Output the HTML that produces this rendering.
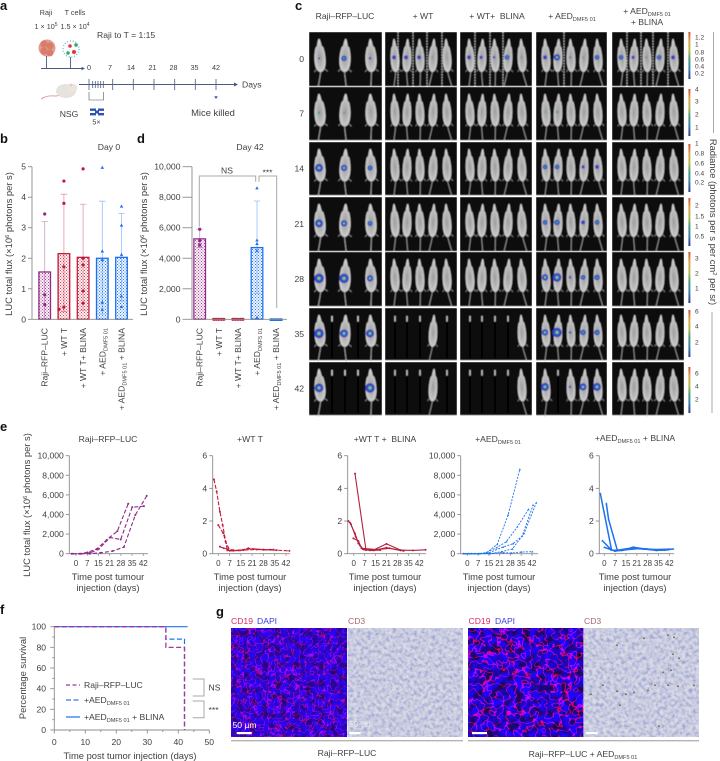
<!DOCTYPE html>
<html lang="en">
<head>
<meta charset="utf-8">
<title>Raji-RFP-LUC tumour model figure</title>
<style>
html,body{margin:0;padding:0;background:#fff}
svg{display:block}
text{font-family:"Liberation Sans",sans-serif;fill:#3f3f3f;font-size:8.6px}
.pl{font-size:13px;font-weight:700;fill:#111}
.ax{stroke:#8c8c8c;stroke-width:.9;fill:none}
.g{stroke:#a8a8a8;stroke-width:1;fill:none}
.sm{font-size:7.2px}
text.wide{font-size:9.4px}
</style>
</head>
<body>
<svg id="fig" xmlns="http://www.w3.org/2000/svg" width="720" height="761" viewBox="0 0 720 761">
<defs>
<pattern id="hPurple" width="3" height="3" patternUnits="userSpaceOnUse"><rect width="3" height="3" fill="#fbf1f8"/><rect width="1" height="1" fill="#a2468f"/><rect x="1.5" y="1.5" width="1" height="1" fill="#a2468f"/></pattern>
<pattern id="hRed" width="3" height="3" patternUnits="userSpaceOnUse"><rect width="3" height="3" fill="#fdf1f2"/><rect width="1" height="1" fill="#d2455f"/><rect x="1.5" y="1.5" width="1" height="1" fill="#d2455f"/></pattern>
<pattern id="hBlue" width="3" height="3" patternUnits="userSpaceOnUse"><rect width="3" height="3" fill="#f0f6ff"/><rect width="1" height="1" fill="#2a7bee"/><rect x="1.5" y="1.5" width="1" height="1" fill="#2a7bee"/></pattern>
<radialGradient id="mouseFill" cx=".5" cy=".55" r=".6"><stop offset="0" stop-color="#9c9c9c"/><stop offset=".55" stop-color="#bcbcbc"/><stop offset="1" stop-color="#e8e8e8"/></radialGradient>
<linearGradient id="cbar" x1="0" y1="0" x2="0" y2="1"><stop offset="0" stop-color="#c8543e"/><stop offset=".2" stop-color="#dca548"/><stop offset=".4" stop-color="#b4b850"/><stop offset=".58" stop-color="#4a9a78"/><stop offset=".78" stop-color="#3a82ac"/><stop offset="1" stop-color="#333a80"/></linearGradient>
<filter id="fBlur" x="0" y="0" width="1" height="1"><feGaussianBlur stdDeviation=".5"/></filter>
<filter id="fCd19" x="0" y="0" width="1" height="1" color-interpolation-filters="sRGB">
<feTurbulence type="fractalNoise" baseFrequency=".16" numOctaves="2" seed="4"/>
<feColorMatrix values="1 0 0 0 0 0 1 0 0 0 0 0 1 0 0 0 0 0 0 1"/>
<feComponentTransfer><feFuncR id="ridgeA" type="table" tableValues="0.1 0.1"/><feFuncG type="table" tableValues="0.02 0.02 0.05"/><feFuncB type="table" tableValues="0.3 0.4 0.58 0.82 0.95 1 1"/></feComponentTransfer>
</filter>
<filter id="fCd19b" x="0" y="0" width="1" height="1" color-interpolation-filters="sRGB">
<feTurbulence type="fractalNoise" baseFrequency=".13" numOctaves="2" seed="11"/>
<feColorMatrix values="1 0 0 0 0 0 1 0 0 0 0 0 1 0 0 0 0 0 0 1"/>
<feComponentTransfer><feFuncR id="ridgeB" type="table" tableValues="0.1 0.1"/><feFuncG type="table" tableValues="0.02 0.02 0.05"/><feFuncB type="table" tableValues="0.12 0.22 0.42 0.78 1 1 1"/></feComponentTransfer>
</filter>
<filter id="fCd3" x="0" y="0" width="1" height="1" color-interpolation-filters="sRGB">
<feTurbulence type="fractalNoise" baseFrequency=".28" numOctaves="3" seed="7"/>
<feColorMatrix values="1 0 0 0 0 1 0 0 0 0 1 0 0 0 0 0 0 0 0 1"/>
<feComponentTransfer><feFuncR type="table" tableValues="0.54 0.66 0.79 0.86 0.9"/><feFuncG type="table" tableValues="0.56 0.68 0.8 0.87 0.9"/><feFuncB type="table" tableValues="0.8 0.84 0.88 0.9 0.92"/></feComponentTransfer>
</filter>
</defs>

<text class="pl" x="0" y="10">a</text>
<text class="pl" x="0" y="143">b</text>
<text class="pl" x="137" y="143">d</text>
<text class="pl" x="295" y="10">c</text>
<text class="pl" x="0" y="431">e</text>
<text class="pl" x="0" y="614">f</text>
<text class="pl" x="216" y="616">g</text>

<!-- Panel a -->
<g>
<text x="46" y="15" text-anchor="middle" class="sm">Raji</text>
<text x="75" y="15" text-anchor="middle" class="sm">T cells</text>
<text x="46" y="29" text-anchor="middle" class="sm">1 × 10<tspan dy="-3" font-size="5">5</tspan></text>
<text x="75" y="29" text-anchor="middle" class="sm">1.5 × 10<tspan dy="-3" font-size="5">4</tspan></text>
<text x="97" y="38" style="font-size:8.6px">Raji to T = 1:15</text>
<g>
<circle cx="47" cy="48" r="8.5" fill="#e39c8e"/><circle cx="44" cy="44" r="3.6" fill="#d97c6c"/><circle cx="50" cy="46" r="3.6" fill="#d97c6c"/><circle cx="44" cy="51" r="3.6" fill="#d97c6c"/><circle cx="50" cy="53" r="3.4" fill="#d97c6c"/>
</g>
<g>
<circle cx="70" cy="46" r="1.8" fill="#e2353f"/><circle cx="76" cy="45" r="1.8" fill="#3aa86a"/><circle cx="74" cy="52" r="2" fill="#e2353f"/><circle cx="68" cy="53" r="1.8" fill="#3aa86a"/>
<circle cx="71" cy="49" r="8" fill="none" stroke="#4aa8c8" stroke-width="1.4" stroke-dasharray=".8 2"/>
</g>
<path d="M46.5 56V68.5M70.5 57V68.5M41 68.5H84" stroke="#4a5d80" stroke-width=".9" fill="none"/>
<path d="M85 68.5l-3.5-1.8v3.6z" fill="#3a5a90"/>
<path d="M79 84.5H235" stroke="#4a5d80" stroke-width=".9"/>
<path d="M89 79V90M112.7 79V90M133.3 79V90M154 79V90M174.7 79V90M195.3 79V90M216 79V90M92.7 81V88M95.3 81V88M98 81V88M100.7 81V88M103.3 81V88" stroke="#4a5d80" stroke-width=".8" fill="none"/>
<g>
<text x="89" y="70" text-anchor="middle" class="sm">0</text>
<text x="110" y="70" text-anchor="middle" class="sm">7</text>
<text x="131" y="70" text-anchor="middle" class="sm">14</text>
<text x="152.5" y="70" text-anchor="middle" class="sm">21</text>
<text x="173.5" y="70" text-anchor="middle" class="sm">28</text>
<text x="194.5" y="70" text-anchor="middle" class="sm">35</text>
<text x="216" y="70" text-anchor="middle" class="sm">42</text>
</g>
<path d="M238 84.5l-4-2v4z" fill="#3a5a90"/>
<text x="242" y="87.5" style="font-size:8.6px">Days</text>
<path d="M89 92V100H103.5V92" stroke="#555" stroke-width=".6" fill="none"/>
<g>
<path d="M41 99C50 93 55 98 60 95" stroke="#d98a8a" stroke-width=".8" fill="none"/>
<ellipse cx="66" cy="91" rx="10" ry="7" fill="#e6e2dc"/><ellipse cx="73" cy="88" rx="4.5" ry="4" fill="#e9e5e0"/><circle cx="71" cy="85" r="1.5" fill="#f0c8c0"/>
</g>
<text x="69" y="117" text-anchor="middle" style="font-size:8.6px">NSG</text>
<g fill="#2f52b8"><rect x="90" y="108.5" width="6" height="2.4"/><rect x="98" y="108.5" width="6" height="2.4"/><rect x="90" y="113" width="6" height="2.4"/><rect x="98" y="113" width="6" height="2.4"/><rect x="95" y="110.5" width="4" height="3"/></g>
<text x="96.5" y="124.5" text-anchor="middle" class="sm">5×</text>
<path d="M216 99l-1.8-2.8h3.6z" fill="#3a5a90"/>
<text x="213" y="116" text-anchor="middle" style="font-size:9.4px">Mice killed</text>
</g>

<!-- Panels b, d -->
<text x="109" y="150" text-anchor="middle">Day 0</text>
<text x="250" y="150" text-anchor="middle">Day 42</text>
<text class="wide" transform="translate(12,244) rotate(-90)" text-anchor="middle">LUC total flux (×10<tspan dy="-3" font-size="5.8">6</tspan><tspan dy="3"> photons per s)</tspan></text>
<text class="wide" transform="translate(147,244) rotate(-90)" text-anchor="middle">LUC total flux (×10<tspan dy="-3" font-size="5.8">6</tspan><tspan dy="3"> photons per s)</tspan></text>
<g id="panelB"></g>
<g id="panelD"></g>
<path class="g" d="M199.3 226.7V176H255.7V181.7M259 181.7V176H276.7V308"/>
<text x="227" y="173.5" text-anchor="middle">NS</text>
<text x="267.5" y="175.5" text-anchor="middle">***</text>

<!-- Panel c -->
<g>
<text x="345" y="19" text-anchor="middle">Raji–RFP–LUC</text>
<text x="423" y="19" text-anchor="middle">+ WT</text>
<text x="497" y="19" text-anchor="middle" xml:space="preserve">+ WT+  BLINA</text>
<text x="572" y="19" text-anchor="middle">+ AED<tspan dy="2" font-size="5.6">DMF5 01</tspan></text>
<text x="647" y="14" text-anchor="middle">+ AED<tspan dy="2" font-size="5.6">DMF5 01</tspan></text>
<text x="647" y="25" text-anchor="middle">+ BLINA</text>
</g>
<g id="mouseGrid"></g>
<g id="colorBars"></g>
<text class="wide" transform="translate(710,222) rotate(90)" text-anchor="middle">Radiance (photons per s per cm<tspan dy="-3" font-size="5.8">2</tspan><tspan dy="3"> per sr)</tspan></text>
<path class="g" d="M713.5 32V133M712 312V413"/>

<!-- Panel e -->
<text class="wide" transform="translate(30,505) rotate(-90)" text-anchor="middle">LUC total flux (×10<tspan dy="-3" font-size="5.8">6</tspan><tspan dy="3"> photons per s)</tspan></text>
<text x="108" y="442" text-anchor="middle">Raji–RFP–LUC</text>
<text x="250" y="442" text-anchor="middle">+WT T</text>
<text x="385" y="442" text-anchor="middle" xml:space="preserve">+WT T +  BLINA</text>
<text x="498" y="442" text-anchor="middle">+AED<tspan dy="2" font-size="5.6">DMF5 01</tspan></text>
<text x="635" y="441" text-anchor="middle">+AED<tspan dy="2" font-size="5.6">DMF5 01</tspan><tspan dy="-2"> + BLINA</tspan></text>
<g id="panelE"></g>

<!-- Panel f -->
<g id="panelF"></g>
<text class="wide" transform="translate(26,678) rotate(-90)" text-anchor="middle">Percentage survival</text>
<text class="wide" x="130" y="759" text-anchor="middle">Time post tumor injection (days)</text>
<g>
<line x1="66" x2="80" y1="685" y2="685" stroke="#a3379a" stroke-width="1.3" stroke-dasharray="4 2.5"/>
<text x="84" y="688">Raji–RFP–LUC</text>
<line x1="66" x2="80" y1="700" y2="700" stroke="#2a7bee" stroke-width="1.3" stroke-dasharray="5 2.5"/>
<text x="84" y="703">+AED<tspan dy="2" font-size="5.6">DMF5 01</tspan></text>
<line x1="66" x2="80" y1="717" y2="717" stroke="#2a7bee" stroke-width="1.3"/>
<text x="84" y="720">+AED<tspan dy="2" font-size="5.6">DMF5 01</tspan><tspan dy="-2"> + BLINA</tspan></text>
</g>
<path class="g" d="M192.7 679H204V696H192.7M192.7 701H204V717.7H192.7"/>
<text x="208.5" y="690.5">NS</text>
<text x="208.5" y="713">***</text>

<!-- Panel g -->
<g>
<text x="231" y="624" style="fill:#e0246a">CD19</text>
<text x="257" y="624" style="fill:#3d3ee0">DAPI</text>
<text x="348" y="624" style="fill:#a86a70">CD3</text>
<text x="468.5" y="624" style="fill:#e0246a">CD19</text>
<text x="495" y="624" style="fill:#3d3ee0">DAPI</text>
<text x="584" y="624" style="fill:#a86a70">CD3</text>
<rect x="231" y="628.3" width="115.7" height="108.7" filter="url(#fCd19)"/>
<rect x="347.7" y="628.3" width="115.3" height="108.7" filter="url(#fCd3)"/>
<rect x="468" y="628.3" width="115.3" height="108.7" filter="url(#fCd19b)"/>
<rect x="584" y="628.3" width="115" height="108.7" filter="url(#fCd3)"/>
<g id="cd3Cells"></g>
<text x="232.5" y="728" style="fill:#fff">50 µm</text>
<text x="349" y="727" style="fill:#eee;opacity:.75">50 µm</text>
<g fill="#fff"><rect x="236.7" y="732" width="15" height="2.2"/><rect x="349" y="732" width="11.7" height="2.2"/><rect x="472" y="732" width="15" height="2.2"/><rect x="586" y="732" width="11.3" height="2.2"/></g>
<path d="M231 740.7H463M468 740.7H699" stroke="#b4b4b4" stroke-width="1.4"/>
<text x="347" y="756" text-anchor="middle">Raji–RFP–LUC</text>
<text x="583" y="757" text-anchor="middle">Raji–RFP–LUC + AED<tspan dy="2" font-size="5.6">DMF5 01</tspan></text>
</g>
</svg>
<script>
// ---- Panel b data (Day 0) ----
const barLabelParts=[['Raji–RFP–LUC'],['+ WT T'],['+ WT T+ BLINA'],['+ AED','DMF5 01'],['+ AED','DMF5 01',' + BLINA']];
const bTicks=[0,1,2,3,4,5];
const bMeans=[1.55,2.15,2.03,2.0,2.03];
const bErrHigh=[3.2,4.1,3.77,3.87,3.47];
const bErrLow=[0,0.25,0.3,0.17,0.6];
const bPoints=[[3.45,0.8,0.48],[4.53,3.8,1.72,0.33,0.4],[4.93,2.0,1.78,0.93,0.53],[4.97,2.23,1.95,0.55,0.32],[3.7,3.08,2.12,0.76,0.41]];
// ---- Panel d data (Day 42) ----
const dTicks=[0,2000,4000,6000,8000,10000];
const dMeans=[5270,20,20,4700,10];
const dErrHigh=[5900,30,30,7750,20];
const dErrLow=[4700,0,0,1700,0];
const dPoints=[[5900,5150,4870],[0,0,0,0,0],[0,0,0,0,0],[8600,5180,4950,4500,130],[-30,-30,-30,-30,-30]];
// ---- Panel e data ----
const eDayTicks=[0,7,15,21,28,35,42];
const fluxTicks=[0,2000,4000,6000,8000,10000];
const smallFluxTicks=[0,2,4,6];
const rajiDays=[[-2.7,2.1,7.1,12.9,19.1,25.8,32.6],[-1.9,3.1,8.7,14.1,21.2,27.9,35.1,42.4],[3.1,8.7,15.6,22.9,29.9,37,44.1]];
const rajiFlux=[[0,0,130,480,1400,2300,5100],[0,0,80,450,1650,1450,4750,4850],[0,0,100,270,680,3950,5900]];
const wtDays=[[-2.7,-1,1,2.7,4.6,5.6,9.3,15.5,23.8,32.1,44.1],[0,3.1,4.6,7.2,13.5,18.6,28,34.2],[1,3.5,6.2,12.4,18.6,28,36.2]];
const wtFlux=[[4.55,3.8,2.57,1.75,0.73,0.2,0.18,0.22,0.26,0.24,0.17],[1.75,1.25,0.73,0.18,0.2,0.33,0.25,0.25],[0.43,0.33,0.27,0.2,0.3,0.24,0.22]];
const wtBlinaDays=[[0.85,7.9,12.6,21,30,38,46],[-3.4,-1.7,1.3,4,6.6,12.6,21,30],[-0.2,3,5,14.7,23,32],[-2.4,0.85,3,5.8,10.5,17]];
const wtBlinaFlux=[[4.9,0.22,0.22,0.6,0.22,0.2,0.24],[2,1.8,1.04,0.5,0.25,0.2,0.37,0.2],[0.94,0.78,0.33,0.25,0.33,0.17],[1.9,1.24,0.63,0.29,0.2,0.22]];
const aedDays=[[-2.6,2.8,8.2,12.5,19.4,26.5,34.1],[-2.2,5,11.4,19,25.4,32.5,39.7],[-0.9,7.1,13.6,23.3,29.7,35.6,42.7],[0.6,14.7,22.2,29.3,36.9,44.8],[1.7,14.7,23.3,28.7,35.1,42.2]];
const aedFlux=[[0,0,0,100,950,3950,8600],[0,0,60,610,1220,2750,4520],[0,0,60,680,1020,1800,4960],[0,0,200,476,2070,5200],[0,0,100,70,170,200]];
const aedBlinaDays=[[-2.6,4.7,8,14.4,20.9,27.4,33.8,40.3,44.6],[1.3,2.8,8.4,12.3,18.8,25.2,32.8,39.2],[-1.3,4.7,11.2,18.3,26.3,33.8,41.4],[0,6.9,14.4,23,31.7,42.5]];
const aedBlinaFlux=[[3.69,0.22,0.2,0.3,0.32,0.28,0.22,0.25,0.29],[3.08,2.1,0.22,0.22,0.4,0.3,0.25,0.22],[0.8,0.22,0.2,0.33,0.28,0.2,0.24],[0.39,0.16,0.25,0.32,0.25,0.28]];
// ---- Panel f data: each value is the survival from that day onward ----
const survivalXTicks=[0,10,20,30,40,50];
const survivalYTicks=[0,20,40,60,80,100];
const survivalDaysRaji=[0,36,42];
const survivalPctRaji=[100,80,0];
const survivalDaysAed=[0,36,42];
const survivalPctAed=[100,88,0];
const survivalDaysBlina=[0,43];
const survivalPctBlina=[100,100];
// ---- Panel c labels ----
const dayLabels=['0','7','14','21','28','35','42'];
const radianceTicks=[['1.2','1','0.8','0.6','0.4','0.2'],['4','3','2','1'],['1','0.8','0.6','0.4','0.2'],['2','1.5','1','0.5'],['3','2','1'],['6','4','2'],['6','4','2']];
// Tumour signal per mouse: rows = days, columns = groups; null = no mouse
const signal=[
 [[1.2,3.5,1.5],[2.5,2.5,2.5,.7,0],[2.5,2,1.5,3,.7],[2.5,4,1,.7,3],[3,2,.8,3,2.5]],
 [[1.5,1.2,0],[0,0,0,0,0],[0,0,0,0,0],[.8,1.5,0,0,0],[0,0,0,0,0]],
 [[5,4,3.2],[0,0,0,0,0],[0,0,0,0,0],[3,3,0,2,2.5],[0,0,0,0,0]],
 [[5,4,3.2],[0,0,0,0,0],[0,0,0,0,0],[3,3.5,.5,2.5,3],[0,0,0,0,0]],
 [[6,6,4],[0,0,0,0,0],[0,0,0,0,0],[4,5.5,1.5,3,3.5],[0,0,0,0,0]],
 [[6,5,5],[null,null,null,0,null],[null,null,null,null,0],[4,6,1.5,3.5,3.5],[0,0,0,0,0]],
 [[5.5,null,6],[null,null,null,0,null],[null,null,null,null,0],[5,null,1.5,4.5,5],[0,0,0,0,0]]
];

const NS='http://www.w3.org/2000/svg';
function mk(tag,attrs,parent){
  const e=document.createElementNS(NS,tag);
  for(const k in attrs)e.setAttribute(k,attrs[k]);
  if(parent)parent.appendChild(e);
  return e;
}
function txt(parent,x,y,s,anchor,size){
  const t=mk('text',{x:x,y:y,'text-anchor':anchor||'middle'},parent);
  if(size)t.style.fontSize=size+'px';
  t.textContent=s;
  return t;
}
function fmt(v){return v.toLocaleString('en-US');}
function ridge(n,low,peak,side){
  const a=new Array(n).fill(low),m=(n-1)/2;
  a[m]=peak;a[m-1]=side;a[m+1]=side;
  return a.join(' ');
}
document.getElementById('ridgeA').setAttribute('tableValues',ridge(41,0.16,0.8,0.42));
document.getElementById('ridgeB').setAttribute('tableValues',ridge(37,0.12,0.95,0.5));

const PURPLE='#8e2a88',RED='#c3193c',BLUE='#1c72ee';
const barColors=[PURPLE,RED,RED,BLUE,BLUE];
const barFills=['url(#hPurple)','url(#hRed)','url(#hRed)','url(#hBlue)','url(#hBlue)'];

function marker(parent,cx,cy,kind,color,r){
  if(kind==='tri'){
    return mk('path',{d:`M${cx} ${cy-r*1.15}L${cx+r*1.1} ${cy+r*.8}H${cx-r*1.1}Z`,fill:color},parent);
  }
  return mk('circle',{cx:cx,cy:cy,r:r,fill:color},parent);
}
function swarm(ys){
  const order=ys.map((y,i)=>i).sort((a,b)=>ys[a]-ys[b]);
  const placed=[],dx=new Array(ys.length).fill(0);
  const steps=[0,-5,5,-2.6,2.6,-7,7];
  order.forEach(i=>{
    for(const s of steps){
      if(!placed.some(p=>Math.abs(p.y-ys[i])<3.2&&Math.abs(p.x-s)<2.4)){
        dx[i]=s;placed.push({x:s,y:ys[i]});break;
      }
    }
  });
  return dx;
}
function barPanel(g,opts){
  const y0=319.3,h=152.6,yS=v=>y0-v/opts.max*h;
  const xS=i=>opts.x0+i*opts.step;
  opts.ticks.forEach(t=>{
    const l=mk('line',{x1:opts.axisX-opts.tick,x2:opts.axisX,y1:yS(t),y2:yS(t),class:'ax'},g);
    
    
    const lab=txt(g,opts.axisX-opts.tick-2,yS(t)+3,fmt(t),'end');
    
    
  });
  barLabelParts.forEach((parts,i)=>{
    const x=xS(i);
    const c=barColors[i];
    const bw=mk('rect',{x:x-5.8,y:Math.min(yS(opts.means[i]),y0-.3),width:11.6,height:Math.max(y0-yS(opts.means[i]),.3),fill:barFills[i],stroke:c,'stroke-width':1.3},g);
    
    
    const err=mk('path',{d:`M${x} ${yS(opts.errLow[i])}V${yS(opts.errHigh[i])}M${x-3.2} ${yS(opts.errHigh[i])}h6.4M${x-3.2} ${yS(opts.errLow[i])}h6.4`,stroke:c,'stroke-width':.8,fill:'none',opacity:.45},g);
    
    
    const ys=opts.points[i].map(yS),dx=swarm(ys);
    ys.forEach((y,k)=>{
      const p=marker(g,x+dx[k],y,i>2?'tri':'dot',c,1.6);
      
      
    });
    const t=mk('text',{transform:`translate(${x+3},${328}) rotate(-90)`,'text-anchor':'end'},g);
    
    
    parts.forEach((s,k)=>{
      const sp=mk('tspan',{},t);
      if(k===1){sp.setAttribute('font-size','5.6');sp.setAttribute('dy','2');}
      if(k===2){sp.setAttribute('dy','-2');}
      sp.textContent=s;
    });
  });
  const ax=mk('path',{d:`M${opts.axisX} ${y0-h}V${y0}M${opts.axisX} ${y0}H${opts.axisEnd}`,class:'ax'},g);
  
  
}
barPanel(document.getElementById('panelB'),{max:5,ticks:bTicks,means:bMeans,errHigh:bErrHigh,errLow:bErrLow,points:bPoints,x0:44.7,step:19.2,axisX:32,axisEnd:133,tick:4});
barPanel(document.getElementById('panelD'),{max:10000,ticks:dTicks,means:dMeans,errHigh:dErrHigh,errLow:dErrLow,points:dPoints,x0:199.7,step:19.1,axisX:192,axisEnd:287,tick:9.5});

// Panel e
function lineChart(g,o){
  const y0=553.7,h=98,yS=v=>y0-v/o.max*h,xS=d=>o.xd0+(d/42)*(o.xd42-o.xd0);
  o.ticks.forEach(t=>{
    const l=mk('line',{x1:o.axisX-3.5,x2:o.axisX,y1:yS(t),y2:yS(t),class:'ax'},g);
    
    
    const lab=txt(g,o.axisX-5.5,yS(t)+3,o.max>100?fmt(t):String(t),'end');
    
    
  });
  eDayTicks.forEach((t,i)=>{
    const x=o.xd0+i/6*(o.xd42-o.xd0);
    const l=mk('line',{x1:x,x2:x,y1:y0,y2:y0+2,class:'ax'},g);
    
    
    const lab=txt(g,x,y0+12.5,String(t),'middle',8);
    
    
  });
  const ax=mk('path',{d:`M${o.axisX} ${y0-h}V${y0}H${o.axisEnd}`,class:'ax'},g);
  
  
  o.days.forEach((ds,si)=>{
    const vs=o.values[si];
    const d=ds.map((dd,k)=>(k?'L':'M')+xS(dd).toFixed(1)+' '+yS(vs[k]).toFixed(1)).join('');
    const line=mk('path',{d:d,fill:'none',stroke:o.color,'stroke-width':o.width,'stroke-dasharray':o.dash||'none'},g);
    
    
    ds.forEach((dd,k)=>{
      const p=marker(g,xS(dd),yS(vs[k]),o.kind,o.color,1);
      
      
    });
  });
  const a=txt(g,o.labelX,580,'Time post tumour');
  a.setAttribute('class','wide');
  
  
  const b=txt(g,o.labelX,591,'injection (days)');
  b.setAttribute('class','wide');
  
  
}
const gE=document.getElementById('panelE');
lineChart(gE,{max:10000,ticks:fluxTicks,days:rajiDays,values:rajiFlux,axisX:69.3,xd0:76,xd42:143.3,axisEnd:148,color:PURPLE,dash:'4 2',width:1.1,kind:'dot',labelX:108});
lineChart(gE,{max:6,ticks:smallFluxTicks,days:wtDays,values:wtFlux,axisX:212.7,xd0:218.3,xd42:286,axisEnd:290,color:RED,dash:'4 1.6',width:1.1,kind:'dot',labelX:250});
lineChart(gE,{max:6,ticks:smallFluxTicks,days:wtBlinaDays,values:wtBlinaFlux,axisX:347.7,xd0:353.7,xd42:419.3,axisEnd:426,color:'#b5203f',width:1.1,kind:'dot',labelX:385});
lineChart(gE,{max:10000,ticks:fluxTicks,days:aedDays,values:aedFlux,axisX:460.7,xd0:467.3,xd42:532,axisEnd:538,color:BLUE,dash:'2 1.3',width:.9,kind:'tri',labelX:499});
lineChart(gE,{max:6,ticks:smallFluxTicks,days:aedBlinaDays,values:aedBlinaFlux,axisX:599.3,xd0:604.3,xd42:669.3,axisEnd:674,color:BLUE,width:1.5,kind:'tri',labelX:635});

// Panel f
(function(){
  const g=document.getElementById('panelF');
  const xS=d=>54.3+d*3.1,yS=v=>730-v*1.033;
  const ax=mk('path',{d:`M${xS(0)} ${yS(100)}V${yS(0)}H${xS(50)}`,class:'ax'},g);
  
  
  survivalYTicks.forEach(t=>{
    const l=mk('line',{x1:xS(0)-4,x2:xS(0),y1:yS(t),y2:yS(t),class:'ax'},g);
    
    
    const m=mk('line',{x1:xS(0)-2,x2:xS(0),y1:yS(t+10),y2:yS(t+10),class:'ax'},g);
    if(t===100)m.setAttribute('display','none');
    
    
    const lab=txt(g,46,yS(t)+3,String(t),'end');
    
    
  });
  survivalXTicks.forEach(t=>{
    const l=mk('line',{x1:xS(t),x2:xS(t),y1:730,y2:733.5,class:'ax'},g);
    
    
    const m=mk('line',{x1:xS(t+5),x2:xS(t+5),y1:730,y2:732,class:'ax'},g);
    if(t===50)m.setAttribute('display','none');
    
    
    const lab=txt(g,xS(t),745,String(t));
    
    
  });
  function steps(ds,vs){
    let d='M'+xS(ds[0])+' '+yS(vs[0]);
    for(let i=1;i<ds.length;i++){d+='H'+xS(ds[i])+'V'+yS(vs[i]);}
    return d;
  }
  const s3=mk('path',{d:steps(survivalDaysBlina,survivalPctBlina),fill:'none',stroke:BLUE,'stroke-width':1.2},g);
  
  
  const s2=mk('path',{d:steps(survivalDaysAed,survivalPctAed),fill:'none',stroke:BLUE,'stroke-width':1.2,'stroke-dasharray':'5 2.5'},g);
  
  
  const s1=mk('path',{d:steps(survivalDaysRaji,survivalPctRaji),fill:'none',stroke:'#a3379a','stroke-width':1.3,'stroke-dasharray':'5 2.5'},g);
  
  
})();

// Panel c image grid
(function(){
  const grid=document.getElementById('mouseGrid');
  const colX=[[309,382],[385,457],[460,532],[536,607],[612,684]];
  const rowY=[[32,86],[87,140],[142,195],[197,251],[252,306],[308,360],[362,415]];
  const three=[11,36,62],five=[10,22,35,48,62];
  const tilt=[-3,2,-2,3,-3];
  const tailBend=[-3,2,-1,-3,4];
  rowY.forEach((ry,r)=>{
    colX.forEach((cx,c)=>{
      const cell=mk('g',{filter:'url(#fBlur)'},grid);
      
      
      const w=cx[1]-cx[0],h=ry[1]-ry[0];
      mk('rect',{x:cx[0],y:ry[0],width:w,height:h,fill:'#080808'},cell);
      const pos=c===0?three:five;
      const widthScale=c===0?.92:.72;
      const vals=signal[r][c];
      if(r>=5&&c===0){
        [23,36,49].forEach(tx=>{
          mk('rect',{x:cx[0]+tx-.7,y:ry[0]+8,width:1.4,height:5.5,fill:'#ddd'},cell);
          mk('rect',{x:cx[0]+tx-1,y:ry[0]+15,width:2,height:h-17,fill:'#000'},cell);
        });
      }else if(r>=5&&c>0){
        five.forEach((fx,i)=>{
          if(vals[i]===null){
            mk('rect',{x:cx[0]+fx-.7,y:ry[0]+8,width:1.4,height:5.5,fill:'#ccc'},cell);
            mk('rect',{x:cx[0]+fx-1,y:ry[0]+15,width:2,height:h-17,fill:'#000'},cell);
          }
        });
      }
      pos.forEach((mx,i)=>{
        const v=vals[i];
        if(v===null||v===undefined)return;
        const X=cx[0]+mx,top=ry[0]+7,sc=h/54*.86;
        const mouse=mk('g',{transform:`translate(${X},${top}) rotate(${tilt[i]} 0 20) scale(${sc*widthScale},${sc})`},cell);
        mk('path',{d:`M0 38C${tailBend[i]*.3} 44 ${tailBend[i]} 50 ${tailBend[i]*1.4} 56`,stroke:'#a8a8a8','stroke-width':1.2,fill:'none'},mouse);
        mk('path',{d:'M-.7 0H.7C2 3 2.6 6 3 8L5 10C6.4 15 7 19 7 24C7 31 5.5 36 2 38L0 38.5L-2 38C-5.5 36 -7 31 -7 24C-7 19 -6.4 15 -5 10L-3 8C-2.6 6 -2 3 -.7 0Z',fill:'url(#mouseFill)'},mouse);
        mk('path',{d:'M5 35L9 38M-5 35L-8 38',stroke:'#999','stroke-width':.9},mouse);
        if(v>0){
          const bx=X-1,by=ry[0]+h*.47+(c===0?1:0);
          const blob=mk('g',{},cell);
          
          
          mk('circle',{cx:bx,cy:by,r:v*.8,fill:r===1?'#3a9ab0':'#3b3fc4'},blob);
          if(v>=3)mk('circle',{cx:bx,cy:by,r:v*.38,fill:'#2b9cb4'},blob);
          if(v>=4)mk('circle',{cx:bx,cy:by,r:v*.18,fill:'#c6cc38'},blob);
        }
      });
      if(r===0&&c>0){
        const dashes=[[],[13,28,42,57],[15,30,43],[28],[15,29,41,56]][c];
        dashes.forEach(d=>{
          mk('line',{x1:cx[0]+d,x2:cx[0]+d,y1:ry[0],y2:ry[1],stroke:'#eee','stroke-width':.8,'stroke-dasharray':'1.6 1.2'},cell);
        });
      }
    });
    const lab=txt(grid.parentNode,304,(ry[0]+ry[1])/2+3,dayLabels[r],'end');
    
    
  });
})();

// Colour scales
(function(){
  const g=document.getElementById('colorBars');
  const bars=[[32,79],[89,136],[144,192],[198,246],[252,303],[310,357],[367,413]];
  const ys=[[37,44,52,59,66,73],[89,101,114,127],[143,153,163,173,182],[205,216,226,236],[258,273,288],[311,326,342],[373,386,399]];
  bars.forEach((b,i)=>{
    const r=mk('rect',{x:688.4,y:b[0],width:2,height:b[1]-b[0],fill:'url(#cbar)'},g);
    
    
    radianceTicks[i].forEach((s,k)=>{
      const t=txt(g,695,ys[i][k]+2.4,s,'start',6.6);
      
      
    });
  });
})();

// Brown CD3-positive cells on the treated section
(function(){
  const g=document.getElementById('cd3Cells');
  const rel=[[60,10],[84,7],[90,9],[89,26],[95,30],[87,42],[79,44],[33,17],[19,57],[71,57],[33,63],[42,66],[36,77],[84,57],[110,57],[7,66],[75,98],[50,64],[94,58],[64,62]];
  rel.forEach(p=>{
    const c=mk('circle',{cx:584+p[0],cy:628.3+p[1],r:.9,fill:'#8a5a38'},g);
    
    
  });
})();
</script>
</body>
</html>
